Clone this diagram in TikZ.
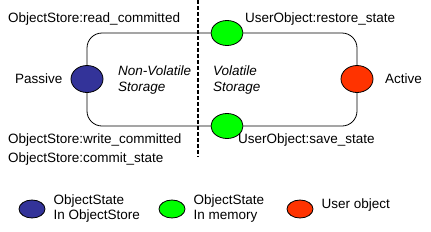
\documentclass[tikz,border=0pt]{standalone}
\usepackage{fontspec}
\setmainfont{Liberation Sans}
\usetikzlibrary{positioning,shapes.geometric}
\definecolor{StoreBlue}{RGB}{51,51,153}
\definecolor{MemGreen}{RGB}{0,255,0}
\definecolor{UserRed}{RGB}{255,51,0}

\begin{document}
\begin{tikzpicture}[
    x=1pt, y=-1pt,
    every node/.style={font=\fontsize{13.5}{15}\selectfont},
    state/.style={
        ellipse, draw=black, line width=0.8pt,
        minimum width=32pt, minimum height=27pt, inner sep=0pt
    },
    legstate/.style={
        ellipse, draw=black, line width=0.8pt,
        minimum width=26pt, minimum height=18pt, inner sep=0pt
    },
    opname/.style={anchor=west, inner sep=0pt},
    storage/.style={anchor=west, inner sep=0pt, align=left,
        font=\fontsize{13.5}{16}\selectfont\itshape},
    cycleline/.style={line width=0.8pt, rounded corners=15pt},
    divider/.style={line width=1.6pt, dash pattern=on 4pt off 2pt}
]
\useasboundingbox (0,0) rectangle (431,231);

\node[state, fill=StoreBlue] (passive) at (87,79) {};
\node[state, fill=UserRed] (active) at (357,79) {};
\node[state, fill=MemGreen, minimum height=25pt] (restore) at (227,33) {};
\node[state, fill=MemGreen, minimum height=25pt] (save) at (227,126) {};

\draw[cycleline] (passive.north) |- (restore.west);
\draw[cycleline] (restore.east) -| (active.north);
\draw[cycleline] (active.south) |- (save.east);
\draw[cycleline] (save.west) -| (passive.south);

\coordinate (divtop) at (198,0);
\coordinate (divbot) at (198,157);
\draw[divider] (divtop) -- (divbot);

\node[opname] (readc) at (8,19) {ObjectStore:read\_committed};
\node[opname] (restorel) at (245,19) {UserObject:restore\_state};
\node[opname] (passivel) at (15,79) {Passive};
\node[opname] (activel) at (385,79) {Active};
\node[storage] (nonvol) at (118,80) {Non-Volatile\\Storage};
\node[storage] (vol) at (213,80) {Volatile\\Storage};
\node[opname] (writec) at (8,140) {ObjectStore:write\_committed};
\node[opname] (commits) at (8,159) {ObjectStore:commit\_state};
\node[opname] (savel) at (238,140) {UserObject:save\_state};

% legend
\node[legstate, fill=StoreBlue] (legstore) at (32,209) {};
\node[legstate, fill=MemGreen] (legmem) at (172,209) {};
\node[legstate, fill=UserRed] (leguser) at (300,209) {};
\node[opname, align=left, right=8pt of legstore] {ObjectState\\In ObjectStore};
\node[opname, align=left, right=8pt of legmem] {ObjectState\\In memory};
\node[opname, right=8pt of leguser, yshift=4pt] {User object};

\end{tikzpicture}
\end{document}
